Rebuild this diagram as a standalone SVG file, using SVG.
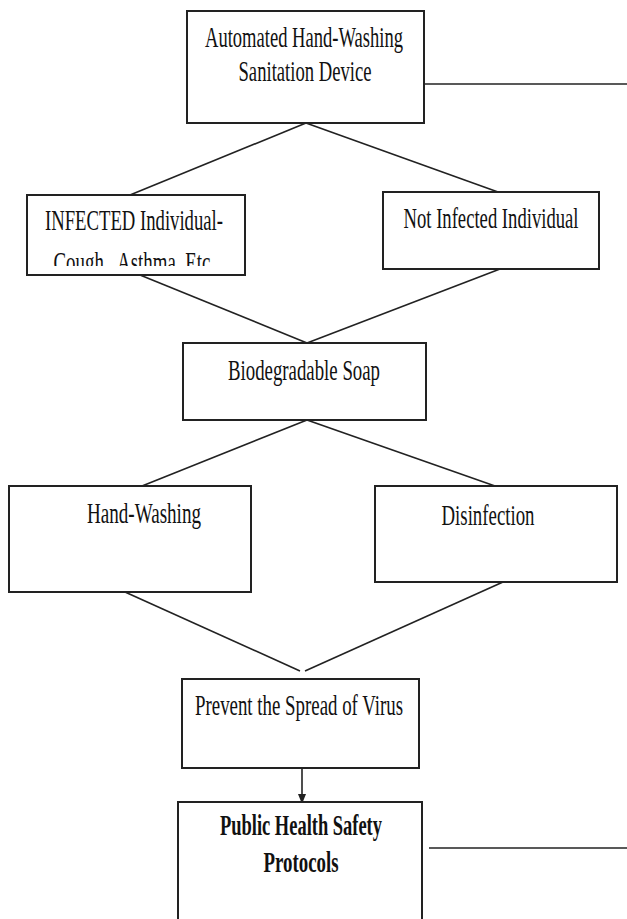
<svg xmlns="http://www.w3.org/2000/svg" width="627" height="919" viewBox="0 0 627 919">
<style>
.box{fill:#fff;stroke:#222;stroke-width:2}
.lbl{font-family:"Liberation Serif","Times New Roman",serif;font-size:29px;fill:#111;text-anchor:middle}
.b{font-weight:bold}
.con{stroke:#222;stroke-width:1.6;fill:none}
</style>
<defs>
<marker id="ah" markerWidth="10" markerHeight="8" refX="10" refY="4" orient="auto" markerUnits="userSpaceOnUse" viewBox="0 0 10 8">
<path d="M0,0 L10,4 L0,8 Z" fill="#222"/>
</marker>
<clipPath id="clipInf"><rect x="27" y="195" width="218" height="71"/></clipPath>
</defs>
<g id="connectors">
<line class="con" x1="306" y1="123" x2="130" y2="195"/>
<line class="con" x1="306" y1="123" x2="498" y2="192"/>
<line class="con" x1="140" y1="275" x2="307" y2="343"/>
<line class="con" x1="500" y1="269" x2="307" y2="343"/>
<line class="con" x1="307" y1="420" x2="142" y2="486"/>
<line class="con" x1="307" y1="420" x2="495" y2="486"/>
<line class="con" x1="125" y1="592" x2="300" y2="671"/>
<line class="con" x1="503" y1="582" x2="305" y2="671"/>
<line class="con" x1="302" y1="768" x2="302" y2="804" marker-end="url(#ah)"/>
<line class="con" x1="424" y1="84" x2="627" y2="84"/>
<line class="con" x1="429" y1="848" x2="627" y2="848"/>
</g>
<g id="n_device">
<rect class="box" x="187" y="11" width="237" height="112"/>
<text class="lbl" x="304" y="47" textLength="198" lengthAdjust="spacingAndGlyphs">Automated Hand-Washing</text>
<text class="lbl" x="305" y="81" textLength="133" lengthAdjust="spacingAndGlyphs">Sanitation Device</text>
</g>
<g id="n_infected">
<rect class="box" x="27" y="195" width="218" height="80"/>
<text class="lbl" x="134" y="230" textLength="178" lengthAdjust="spacingAndGlyphs">INFECTED Individual-</text>
<text class="lbl" x="132" y="272" textLength="157" lengthAdjust="spacingAndGlyphs" clip-path="url(#clipInf)">Cough., Asthma, Etc</text>
</g>
<g id="n_notinfected">
<rect class="box" x="383" y="192" width="216" height="77"/>
<text class="lbl" x="491" y="228" textLength="175" lengthAdjust="spacingAndGlyphs">Not Infected Individual</text>
</g>
<g id="n_soap">
<rect class="box" x="183" y="343" width="243" height="77"/>
<text class="lbl" x="304" y="380" textLength="152" lengthAdjust="spacingAndGlyphs">Biodegradable Soap</text>
</g>
<g id="n_handwashing">
<rect class="box" x="9" y="486" width="242" height="106"/>
<text class="lbl" x="144" y="523" textLength="114" lengthAdjust="spacingAndGlyphs">Hand-Washing</text>
</g>
<g id="n_disinfection">
<rect class="box" x="375" y="486" width="242" height="96"/>
<text class="lbl" x="488" y="525" textLength="93" lengthAdjust="spacingAndGlyphs">Disinfection</text>
</g>
<g id="n_prevent">
<rect class="box" x="182" y="679" width="237" height="89"/>
<text class="lbl" x="299" y="715" textLength="208" lengthAdjust="spacingAndGlyphs">Prevent the Spread of Virus</text>
</g>
<g id="n_public">
<rect class="box" x="178" y="802" width="244" height="130"/>
<text class="lbl b" x="301" y="835" textLength="162" lengthAdjust="spacingAndGlyphs">Public Health Safety</text>
<text class="lbl b" x="301" y="872" textLength="75" lengthAdjust="spacingAndGlyphs">Protocols</text>
</g>
</svg>
